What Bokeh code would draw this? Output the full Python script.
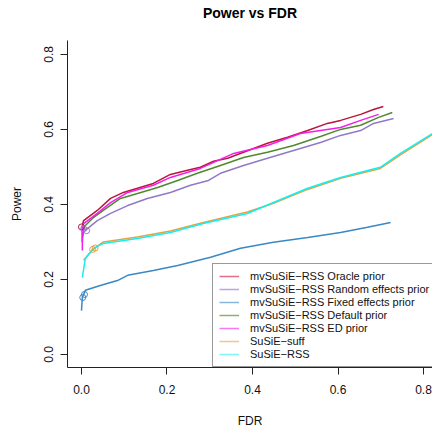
import math
from bokeh.plotting import figure
from bokeh.models import (Range1d, FixedTicker, PrintfTickFormatter,
                          Legend, LegendItem, Title)
from bokeh.embed import file_html
from bokeh.resources import INLINE

# ---- data ----
oracle_fdr = [0.002, 0.002, 0.005, 0.037, 0.068, 0.098, 0.131, 0.168, 0.208, 0.248, 0.278,
              0.309, 0.342, 0.379, 0.435, 0.482, 0.529, 0.575, 0.606, 0.653, 0.683, 0.706]
oracle_pow = [0.300, 0.344, 0.357, 0.384, 0.416, 0.432, 0.443, 0.456, 0.480, 0.491, 0.499,
              0.515, 0.523, 0.539, 0.563, 0.579, 0.597, 0.616, 0.624, 0.640, 0.653, 0.661]

random_fdr = [0.002, 0.005, 0.009, 0.037, 0.068, 0.108, 0.154, 0.208, 0.255, 0.297, 0.325,
              0.379, 0.435, 0.496, 0.559, 0.606, 0.653, 0.683, 0.730]
random_pow = [0.309, 0.336, 0.331, 0.357, 0.376, 0.397, 0.416, 0.432, 0.451, 0.464, 0.483,
              0.504, 0.523, 0.544, 0.565, 0.584, 0.597, 0.616, 0.629]

fixed_fdr = [0.000, 0.002, 0.009, 0.044, 0.084, 0.108, 0.168, 0.225, 0.302, 0.372, 0.449,
             0.529, 0.606, 0.669, 0.723]
fixed_pow = [0.117, 0.152, 0.171, 0.184, 0.197, 0.211, 0.224, 0.237, 0.259, 0.283, 0.299,
             0.312, 0.325, 0.339, 0.352]

default_fdr = [0.003, 0.005, 0.028, 0.051, 0.091, 0.131, 0.178, 0.225, 0.271, 0.325, 0.379,
               0.435, 0.496, 0.559, 0.606, 0.653, 0.695, 0.727]
default_pow = [0.315, 0.339, 0.365, 0.384, 0.416, 0.429, 0.445, 0.464, 0.483, 0.504, 0.525,
               0.539, 0.557, 0.581, 0.600, 0.611, 0.632, 0.645]

ed_fdr = [0.002, 0.002, 0.005, 0.037, 0.068, 0.108, 0.168, 0.208, 0.278, 0.356, 0.435,
          0.512, 0.559, 0.606, 0.653, 0.695]
ed_pow = [0.277, 0.336, 0.349, 0.376, 0.405, 0.432, 0.451, 0.472, 0.496, 0.536, 0.557,
          0.589, 0.597, 0.605, 0.624, 0.640]

suff_fdr = [0.005, 0.026, 0.051, 0.131, 0.208, 0.285, 0.388, 0.449, 0.529, 0.606, 0.699,
            0.746, 0.821, 0.840]
suff_pow = [0.251, 0.279, 0.300, 0.313, 0.329, 0.352, 0.380, 0.403, 0.440, 0.470, 0.496,
            0.532, 0.586, 0.600]

rss_fdr = [0.002, 0.009, 0.028, 0.051, 0.131, 0.208, 0.285, 0.388, 0.449, 0.529, 0.606,
           0.699, 0.746, 0.821, 0.840]
rss_pow = [0.205, 0.256, 0.283, 0.296, 0.309, 0.325, 0.349, 0.376, 0.405, 0.443, 0.472,
           0.499, 0.536, 0.589, 0.602]

# small open circles near the start (threshold markers)
mark_fdr = [0.000, 0.005, 0.012, 0.026, 0.032, 0.003, 0.007]
mark_pow = [0.340, 0.335, 0.330, 0.280, 0.284, 0.152, 0.160]
mark_col = ["#B8163A", "#9179C9", "#9179C9", "#E8A040", "#E8A040", "#3A88C4", "#3A88C4"]

labels = ["mvSuSiE\u2212RSS Oracle prior", "mvSuSiE\u2212RSS Random effects prior",
          "mvSuSiE\u2212RSS Fixed effects prior", "mvSuSiE\u2212RSS Default prior",
          "mvSuSiE\u2212RSS ED prior", "SuSiE\u2212suff", "SuSiE\u2212RSS"]
colors = ["#B8163A", "#9179C9", "#3A88C4", "#4E8A2E", "#F21EEA", "#E8A040", "#14F0F0"]
legend_colors = ["#E0708A", "#B9A6E2", "#86B6DC", "#89B06E", "#F77AF2", "#F1C58C", "#80F6F6"]
ticks = [0.0, 0.2, 0.4, 0.6, 0.8]

FONT = "Liberation Sans"

p = figure(width=432, height=430, output_backend="svg", toolbar_location=None,
           x_range=Range1d(-0.0327, 0.821), y_range=Range1d(-0.0347, 0.837),
           min_border_left=67, min_border_right=0, min_border_top=40, min_border_bottom=63)
p.outline_line_color = None
p.grid.visible = False
p.background_fill_color = "white"
p.border_fill_color = "white"

# spacer between frame and title, then the title itself
p.add_layout(Title(text=" ", text_font=FONT, text_font_size="14px", standoff=2), "above")
p.add_layout(Title(text="Power vs FDR", align="center", text_font=FONT,
                   text_font_size="14px", text_font_style="bold", text_color="#000000",
                   standoff=0), "above")

for ax in (p.xaxis[0], p.yaxis[0]):
    ax.ticker = FixedTicker(ticks=ticks)
    ax.formatter = PrintfTickFormatter(format="%.1f")
    ax.minor_tick_line_color = None
    ax.major_tick_in = 0
    ax.major_tick_out = 7
    ax.axis_line_color = "#222222"
    ax.major_tick_line_color = "#222222"
    ax.major_label_text_font = FONT
    ax.major_label_text_font_size = "12px"
    ax.major_label_text_color = "#111111"
    ax.axis_label_text_font = FONT
    ax.axis_label_text_font_size = "12px"
    ax.axis_label_text_font_style = "normal"
    ax.axis_label_text_color = "#111111"
p.yaxis.major_label_orientation = "parallel"
p.yaxis.major_label_standoff = 7
p.xaxis.major_label_standoff = 10
p.xaxis.axis_label = "FDR"
p.yaxis.axis_label = "Power"
p.xaxis.axis_label_standoff = 17
p.yaxis.axis_label_standoff = 18

series = [(oracle_fdr, oracle_pow), (random_fdr, random_pow), (fixed_fdr, fixed_pow),
          (default_fdr, default_pow), (ed_fdr, ed_pow), (suff_fdr, suff_pow),
          (rss_fdr, rss_pow)]
items = []
nan = float("nan")
for (xs, ys), c, lc, lab in zip(series, colors, legend_colors, labels):
    p.line(xs, ys, line_color=c, line_width=1.5)
    dummy = p.line(x=[nan], y=[nan], line_color=lc, line_width=1.5)
    items.append(LegendItem(label=lab, renderers=[dummy]))

p.scatter(mark_fdr, mark_pow, marker="circle", size=6, fill_color=None,
          line_color=mark_col, line_width=1)

legend = Legend(items=items, location=(145, 0), margin=0, padding=6, spacing=1,
                label_height=12, glyph_height=12, glyph_width=20, label_standoff=11,
                label_text_font=FONT, label_text_font_size="11px",
                label_text_color="#111111",
                border_line_color="#333333", border_line_width=1,
                background_fill_alpha=1.0)
p.add_layout(legend, "center")

open("out.html", "w").write(file_html(p, INLINE))
